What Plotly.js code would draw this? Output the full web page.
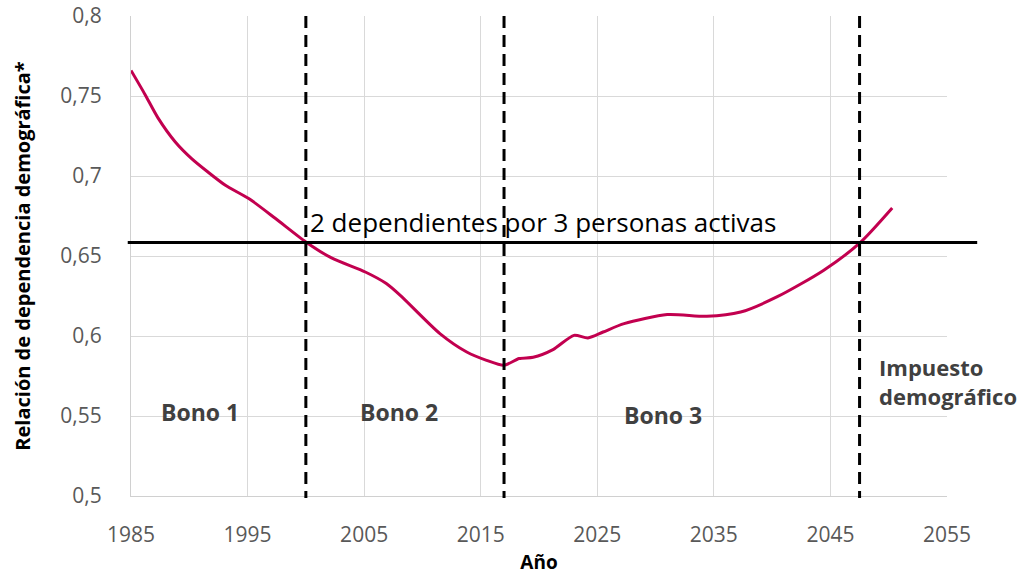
<!DOCTYPE html>
<html>
<head>
<meta charset="utf-8">
<script src="https://cdn.plot.ly/plotly-3.0.1.min.js"></script>
<style>html,body{margin:0;padding:0;background:#fff;}#chart{width:1026px;height:575px;}</style>
</head>
<body>
<div id="chart"></div>
<script>
// Data
const years = [1985, 1986.2, 1987.3, 1988.8, 1990.2, 1991.6, 1993.1, 1995.1, 1997.4, 2000, 2002.2, 2005.1, 2006.9, 2008.1, 2011.5, 2013.8, 2015.5, 2017, 2018.3, 2019.5, 2021.2, 2023, 2024.2, 2025.5, 2027.3, 2031, 2034.4, 2037.3, 2040.4, 2044.4, 2047.5, 2050.3];
const ratio = [0.766, 0.7510, 0.7365, 0.7213, 0.7109, 0.7025, 0.6942, 0.6859, 0.6734, 0.6588, 0.6488, 0.64, 0.6328, 0.6254, 0.6015, 0.59, 0.5848, 0.5817, 0.5859, 0.5867, 0.5915, 0.6004, 0.5988, 0.6025, 0.6077, 0.6134, 0.6123, 0.615, 0.6244, 0.641, 0.658, 0.68];
const thresholdValue = 0.6584;
const thresholdLabel = "2 dependientes por 3 personas activas";
const boundaryYears = [2000, 2017, 2047.5];
const periodLabels = ["Bono 1", "Bono 2", "Bono 3", "Impuesto<br>demográfico"];
const periodLabelX = [1990.9, 2008, 2030.6, 2049];
const periodLabelY = [0.5526, 0.5526, 0.5508, 0.5915];
const xTickVals = [1985, 1995, 2005, 2015, 2025, 2035, 2045, 2055];
const yTickVals = [0.5, 0.55, 0.6, 0.65, 0.7, 0.75, 0.8];
const yTickText = ["0,5", "0,55", "0,6", "0,65", "0,7", "0,75", "0,8"];

const FONT = "'Open Sans', 'Noto Sans', sans-serif";

const shapes = boundaryYears.map(x => ({
  type: 'line', xref: 'x', yref: 'paper', x0: x, x1: x, y0: 1, y1: -0.004,
  line: {color: '#000', width: 3, dash: '12px,7px'}
}));
shapes.push({
  type: 'line', xref: 'paper', yref: 'y', x0: -0.004, x1: 1.037, y0: thresholdValue, y1: thresholdValue,
  line: {color: '#000', width: 3}
});

const annotations = [{
  x: 2000.2, y: thresholdValue, xref: 'x', yref: 'y', text: thresholdLabel, showarrow: false,
  xanchor: 'left', yanchor: 'bottom', yshift: 1,
  font: {family: FONT, size: 26, color: '#000'}
}];
periodLabels.forEach((t, i) => {
  annotations.push({
    x: periodLabelX[i], y: periodLabelY[i], xref: 'x', yref: 'y', text: '<b>' + t + '</b>',
    showarrow: false, xanchor: i === 3 ? 'left' : 'center', yanchor: i === 3 ? 'top' : 'middle', align: 'left',
    font: {family: FONT, size: i === 3 ? 22 : 23, color: '#404040'}
  });
});

const trace = {
  x: years, y: ratio, type: 'scatter', mode: 'lines',
  line: {color: '#C2004F', width: 3, shape: 'spline', smoothing: 0.7},
  hoverinfo: 'x+y'
};

const layout = {
  width: 1026, height: 575,
  margin: {l: 131, r: 79, t: 16, b: 79},
  paper_bgcolor: '#fff', plot_bgcolor: '#fff',
  showlegend: false,
  font: {family: FONT, color: '#595959'},
  xaxis: {
    range: [1985, 2055], tickvals: xTickVals, showgrid: true, gridcolor: '#D9D9D9', gridwidth: 1,
    showline: true, linecolor: '#D0D0D0', linewidth: 1, mirror: false, zeroline: false,
    ticks: 'outside', ticklen: 20, tickcolor: 'rgba(0,0,0,0)',
    tickfont: {family: FONT, size: 21, color: '#595959'},
    title: {text: '<b>Año</b>', font: {family: FONT, size: 19, color: '#000'}, standoff: 10}
  },
  yaxis: {
    range: [0.5, 0.8], tickvals: yTickVals, ticktext: yTickText, showgrid: true, gridcolor: '#D9D9D9', gridwidth: 1,
    showline: true, linecolor: '#D0D0D0', linewidth: 1, zeroline: false,
    ticks: 'outside', ticklen: 24, tickcolor: 'rgba(0,0,0,0)',
    tickfont: {family: FONT, size: 21, color: '#595959'},
    title: {text: '<b>Relación de dependencia demográfica*</b>', font: {family: FONT, size: 20, color: '#000'}, standoff: 24}
  },
  shapes: shapes,
  annotations: annotations
};

Plotly.newPlot('chart', [trace], layout, {displayModeBar: false, staticPlot: true});
</script>
</body>
</html>
